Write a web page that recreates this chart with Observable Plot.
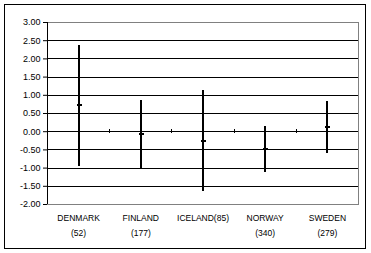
<!DOCTYPE html>
<html>
<head>
<meta charset="utf-8">
<script src="https://cdn.jsdelivr.net/npm/d3@7"></script>
<script src="https://cdn.jsdelivr.net/npm/@observablehq/plot@0.6"></script>
<style>
  html, body { margin: 0; padding: 0; background: #fff; }
  #chart svg { display: block; }
  #chart svg line, #chart svg rect { shape-rendering: crispEdges; }
</style>
</head>
<body>
<div id="chart"></div>
<script>
// Data
const countries = ["DENMARK", "FINLAND", "ICELAND", "NORWAY", "SWEDEN"];
const sampleSizes = ["(52)", "(177)", "(85)", "(340)", "(279)"];
const highValues = [2.38, 0.86, 1.12, 0.15, 0.84];
const lowValues = [-0.96, -1.01, -1.64, -1.13, -0.61];
const meanValues = [0.73, -0.07, -0.26, -0.48, 0.13];
const yTicks = [-2, -1.5, -1, -0.5, 0, 0.5, 1, 1.5, 2, 2.5, 3];

// Build table
const rows = countries.map((c, i) => ({
  country: c,
  label: c === "ICELAND" ? c + sampleSizes[i] : c + "\n" + sampleSizes[i],
  pos: i + 0.5,
  high: highValues[i],
  low: lowValues[i],
  mean: meanValues[i]
}));
const boundaries = d3.range(1, countries.length);
const innerGrid = yTicks.filter(v => v !== yTicks[0] && v !== yTicks[yTicks.length - 1]);

const fmt = v => (v < 0 ? "-" : "") + Math.abs(v).toFixed(2);

const chart = Plot.plot({
  width: 371,
  height: 253,
  marginLeft: 47,
  marginRight: 13,
  marginTop: 22,
  marginBottom: 49,
  style: { fontFamily: "'Liberation Sans', Arial, sans-serif", fontSize: "9px", color: "#000", background: "#fff" },
  x: { domain: [0, countries.length], axis: null },
  y: { domain: [yTicks[0], yTicks[yTicks.length - 1]], axis: null },
  marks: [
    // outer chart frame
    Plot.frame({ stroke: "#000", insetLeft: -43, insetRight: -7, insetTop: -18, insetBottom: -44 }),
    // plot area border (gray)
    Plot.frame({ stroke: "#808080" }),
    // gridlines
    Plot.ruleY(innerGrid, { stroke: "#000", strokeWidth: 1 }),
    // left axis line
    Plot.ruleX([0], { stroke: "#000" }),
    // category boundary ticks on zero line
    Plot.ruleX(boundaries, { y1: -0.06, y2: 0.06, stroke: "#000" }),
    // y axis ticks and labels
    Plot.axisY(yTicks, { tickSize: 4, tickPadding: 3, tickFormat: fmt, fontSize: 9, letterSpacing: "0.9px", stroke: "#000" }),
    // high-low lines
    Plot.ruleX(rows, { x: "pos", y1: "low", y2: "high", stroke: "#000", strokeWidth: 2 }),
    // mean markers
    Plot.ruleY(rows, { y: "mean", x1: d => d.pos - 0.024, x2: d => d.pos + 0.056, stroke: "#000", strokeWidth: 2 }),
    // category labels
    Plot.text(rows, { x: "pos", y: yTicks[0], text: "label", dy: 5, lineAnchor: "top", lineHeight: 1.85, fontSize: 8.5, letterSpacing: "-0.8px", fill: "#000" })
  ]
});
document.getElementById("chart").appendChild(chart);
</script>
</body>
</html>
